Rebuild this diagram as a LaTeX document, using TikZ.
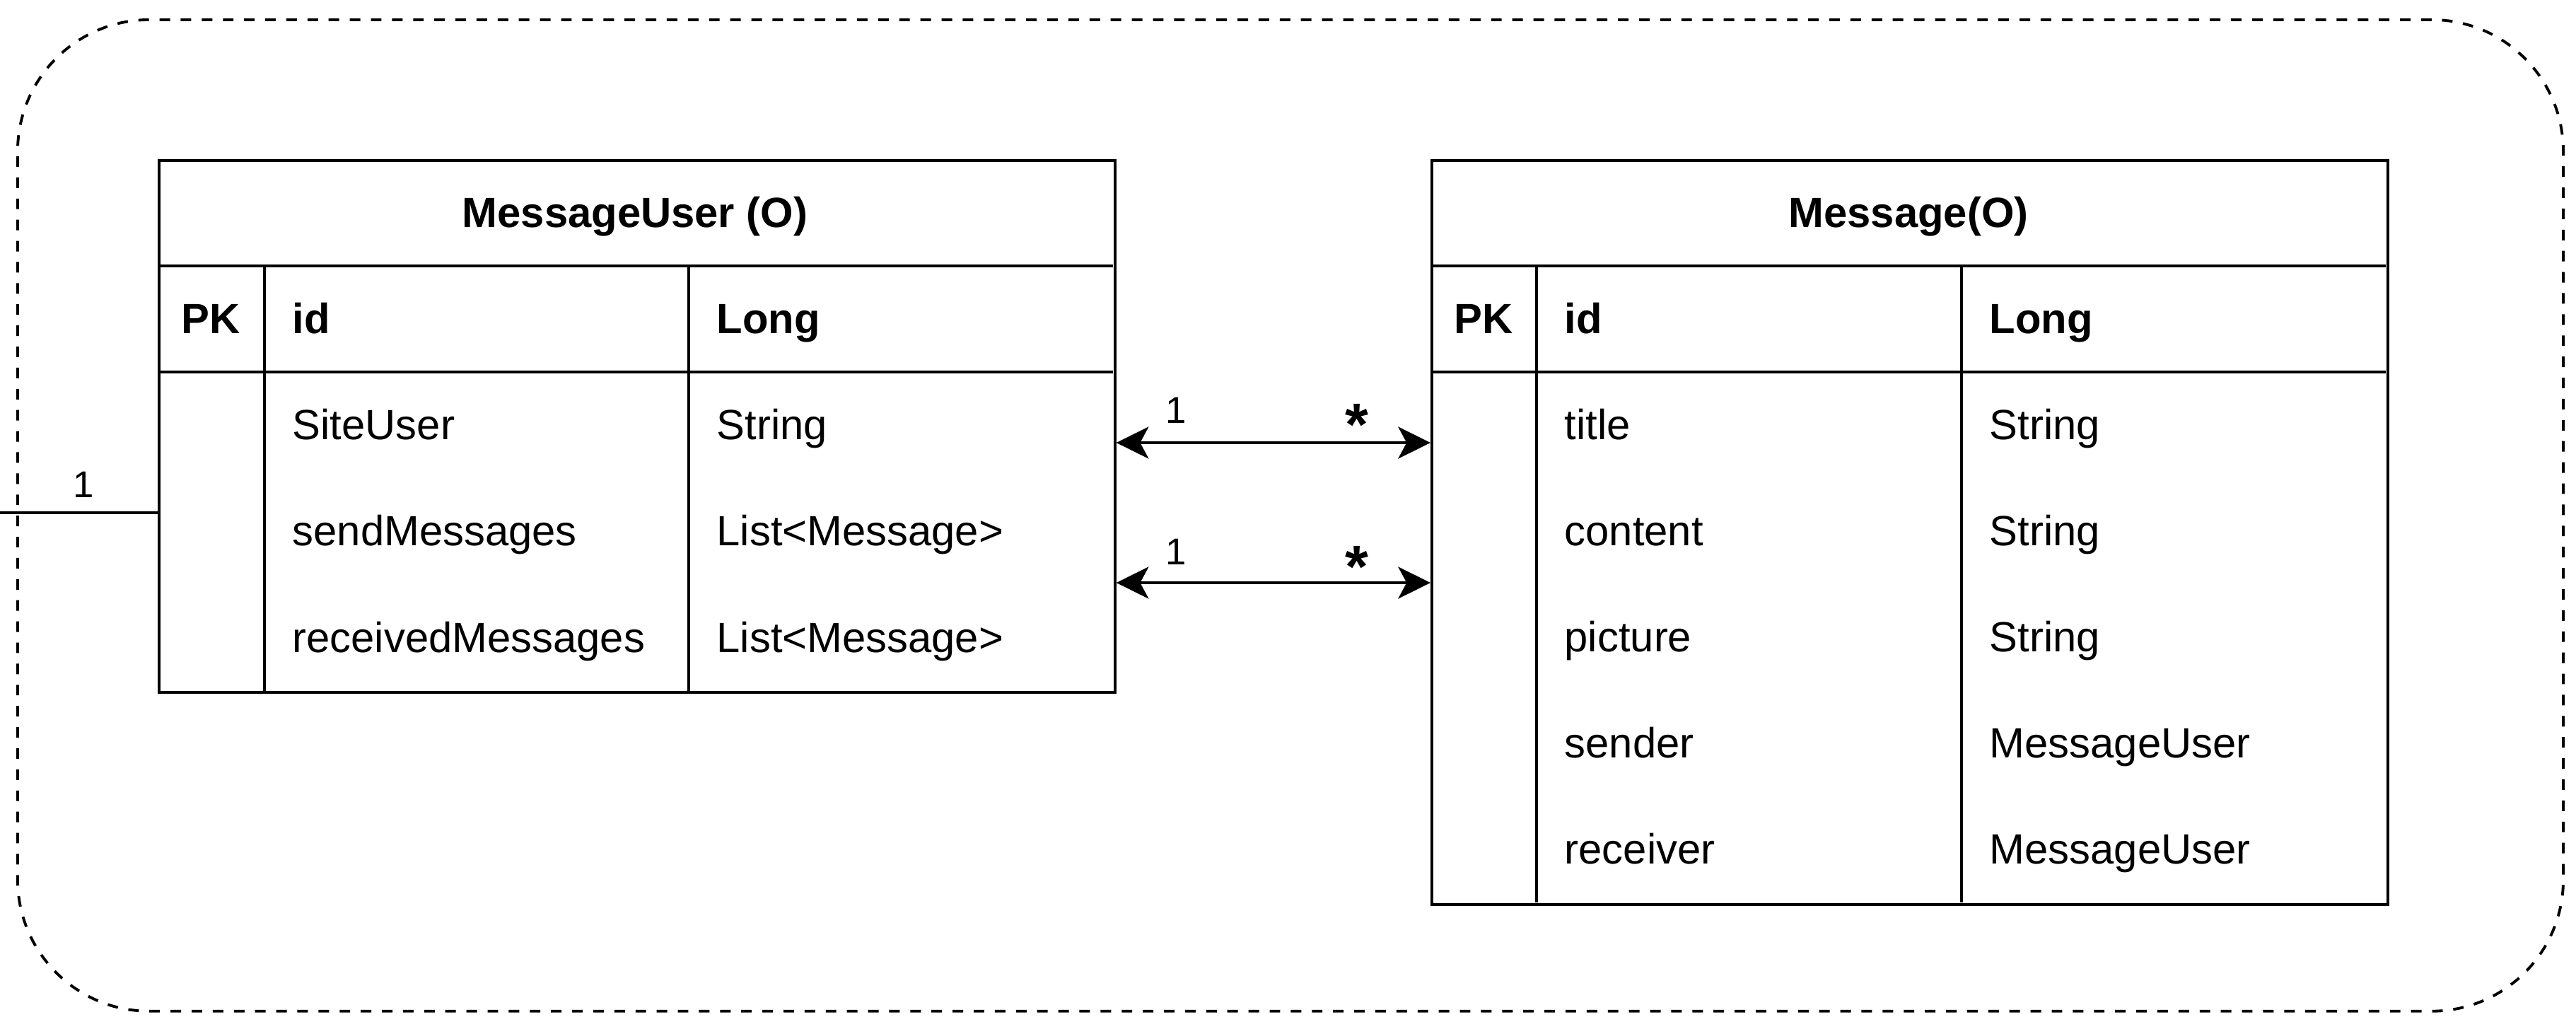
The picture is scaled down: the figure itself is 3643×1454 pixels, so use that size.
\documentclass[tikz,border=0pt]{standalone}
\usepackage{fontspec}
\setmainfont{Liberation Sans}
\usetikzlibrary{arrows.meta,positioning}

\tikzset{
  frame/.style={draw, line width=1.1pt, dash pattern=on 4.25pt off 4.25pt, rounded corners=1.86cm, anchor=north west, inner sep=0pt},
  tablebox/.style={draw, line width=1.1pt, rectangle, anchor=north west, inner sep=0pt},
  tableline/.style={line width=1.1pt},
  cell/.style={anchor=west, inner sep=0pt, text height=15.4pt, text depth=3.6pt, font=\fontsize{17}{20}\selectfont},
  headcell/.style={cell, font=\fontsize{17}{20}\selectfont\bfseries},
  one/.style={anchor=base, inner sep=0pt, font=\fontsize{15}{18}\selectfont},
  many/.style={anchor=base, inner sep=0pt, font=\fontsize{24}{28}\selectfont\bfseries},
  link/.style={line width=1.1pt, {Stealth[length=13pt,width=12.8pt,inset=3.4pt]}-{Stealth[length=13pt,width=12.8pt,inset=3.4pt]}}
}

\begin{document}
\begin{tikzpicture}[x=0.01cm, y=-0.01cm]
    \useasboundingbox (0,0) rectangle (3643,1454);

    % dashed frame round everything
    \node[frame, minimum width=35.98cm, minimum height=14.01cm] (frame) at (23,26) {};

    % MessageUser table
    \node[tablebox, minimum width=13.51cm, minimum height=7.52cm] (mu) at (223,225) {};
    \draw[tableline] (223,376) -- (1574,376);
    \draw[tableline] (223,526) -- (1574,526);
    \draw[tableline] (374,376) -- (374,977);
    \draw[tableline] (974,376) -- (974,977);
    \node[headcell, anchor=center] (muhead) at (898,301) {MessageUser (O)};
    \node[headcell, anchor=center] (mupk) at (298,451) {PK};
    \node[headcell] (muid) at (413,451) {id};
    \node[headcell] (muidtype) at (1013,451) {Long};
    \node[cell] (mua) at (413,601) {SiteUser};
    \node[cell] (muat) at (1013,601) {String};
    \node[cell] (mub) at (413,751) {sendMessages};
    \node[cell] (mubt) at (1013,751) {List<Message>};
    \node[cell] (muc) at (413,902) {receivedMessages};
    \node[cell] (muct) at (1013,902) {List<Message>};

    % Message table
    \node[tablebox, minimum width=13.51cm, minimum height=10.51cm] (msg) at (2023,225) {};
    \draw[tableline] (2023,376) -- (3374,376);
    \draw[tableline] (2023,526) -- (3374,526);
    \draw[tableline] (2173,376) -- (2173,1276);
    \draw[tableline] (2774,376) -- (2774,1276);
    \node[headcell, anchor=center] (msghead) at (2699,301) {Message(O)};
    \node[headcell, anchor=center] (msgpk) at (2098,451) {PK};
    \node[headcell] (msgid) at (2212,451) {id};
    \node[headcell] (msgidtype) at (2813,451) {Long};
    \foreach \name/\type [count=\i] in {title/String, content/String, picture/String, sender/MessageUser, receiver/MessageUser} {
        \node[cell] (msgf\i) at (2212,451+150*\i) {\name};
        \node[cell] (msgt\i) at (2813,451+150*\i) {\type};
    }

    % links between the tables
    \coordinate (linka) at (0,626);
    \coordinate (linkb) at (0,824);
    \coordinate (stub) at (0,725);
    \draw[link] (mu.east |- linka) -- (msg.west |- linka);
    \draw[link] (mu.east |- linkb) -- (msg.west |- linkb);
    \draw[tableline] (stub) -- (mu.west |- stub);

    % multiplicities
    \node[one] (onea) at (1663,598) {1};
    \node[many] (manya) at (1919,629) {*};
    \node[one] (oneb) at (1663,798) {1};
    \node[many] (manyb) at (1919,830) {*};
    \node[one] (onestub) at (118,703) {1};
\end{tikzpicture}
\end{document}
